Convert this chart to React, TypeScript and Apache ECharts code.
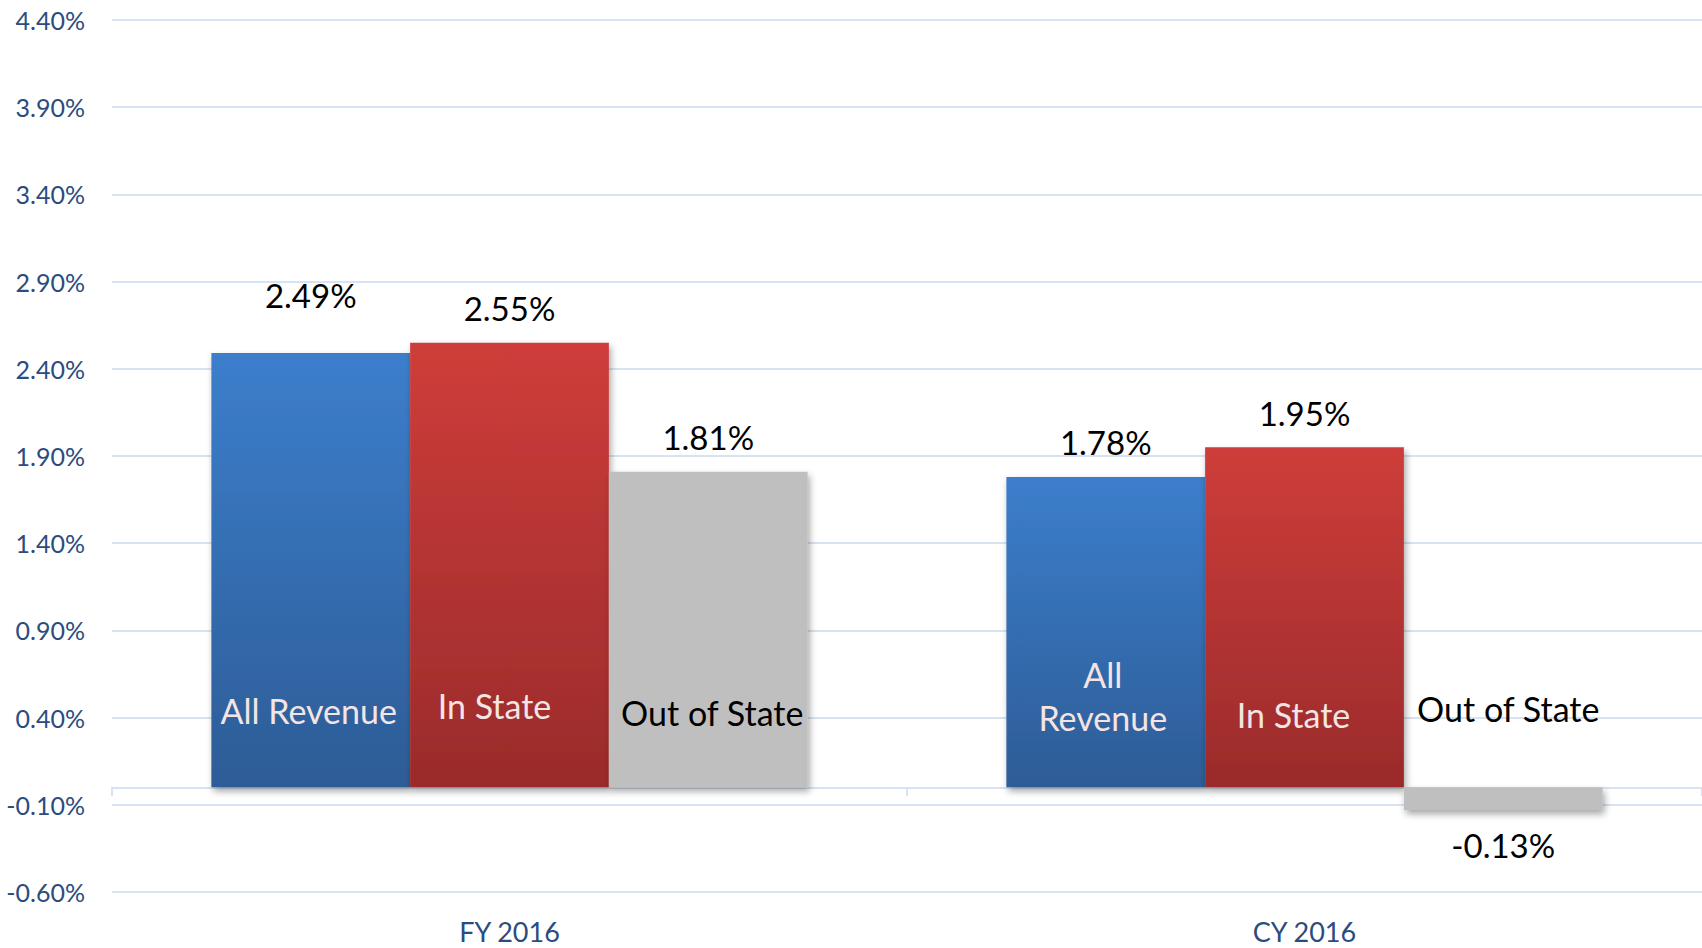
import React, { useEffect, useRef } from 'react';
import * as echarts from 'echarts';

// ---- data ----
const categories = ['FY 2016', 'CY 2016'];
const seriesNames = ['All Revenue', 'In State', 'Out of State'];
const allRevenue = [2.49, 1.78];
const inState = [2.55, 1.95];
const outOfState = [1.81, -0.13];
const axisMin = -0.6;
const axisMax = 4.4;
const axisStep = 0.5;

// ---- style ----
const FONT = 'Lato, "Open Sans", sans-serif';
const AXIS_TEXT = '#2B4C7E';
const GRID_LINE = '#D7E3F2';
const gradients = [
  ['#3C7ECC', '#2D5C96'],
  ['#CE3D3A', '#9A2B2B'],
  ['#BFBFBF', '#BFBFBF'],
];
const nameColors = ['#F4E4E4', '#F4E4E4', '#000000'];
// in-bar name label anchors (value units) and horizontal nudges, per series per category
const nameAnchor = [
  [{ y: 0.44, dx: -2, wrap: false }, { y: 0.523, dx: -3, wrap: true }],
  [{ y: 0.467, dx: -15, wrap: false }, { y: 0.42, dx: -11, wrap: false }],
  [{ y: 0.43, dx: 4, wrap: false }, { y: 0.45, dx: 5, wrap: false }],
];
const valueLabelDistance = [
  [42, 18],
  [18, 18],
  [18, 18],
];

const seriesValues = [allRevenue, inState, outOfState];

export default function App() {
  const ref = useRef<HTMLDivElement>(null);

  useEffect(() => {
    document.body.style.margin = '0';
    document.body.style.overflow = 'hidden';
    if (!ref.current) return;
    const chart = echarts.init(ref.current, null, { renderer: 'svg' });

    const series = seriesNames.map((name, si) => ({
      name,
      type: 'bar',
      xAxisIndex: 0,
      yAxisIndex: 0,
      barGap: '0%',
      barCategoryGap: '25%',
      itemStyle: {
        color: new echarts.graphic.LinearGradient(0, 0, 0, 1, [
          { offset: 0, color: gradients[si][0] },
          { offset: 1, color: gradients[si][1] },
        ]),
        shadowBlur: 7,
        shadowColor: 'rgba(0,0,0,0.35)',
        shadowOffsetX: 2,
        shadowOffsetY: 4,
      },
      data: seriesValues[si].map((v, ci) => ({
        value: v,
        label: {
          show: true,
          position: v < 0 ? 'bottom' : 'top',
          distance: valueLabelDistance[si][ci],
          formatter: (p: any) => Number(p.value).toFixed(2) + '%',
          color: '#000',
          fontSize: 33,
          fontFamily: FONT,
        },
      })),
      markPoint: {
        symbol: 'rect',
        symbolSize: 1,
        itemStyle: { color: 'rgba(0,0,0,0)' },
        silent: true,
        data: categories.map((c, ci) => ({
          coord: [c, nameAnchor[si][ci].y],
          label: {
            show: true,
            position: 'inside',
            offset: [nameAnchor[si][ci].dx, 0],
            formatter: nameAnchor[si][ci].wrap ? name.replace(' ', '\n') : name,
            color: nameColors[si],
            fontSize: 34,
            lineHeight: 43,
            fontFamily: FONT,
          },
        })),
      },
    }));

    chart.setOption({
      animation: false,
      backgroundColor: '#ffffff',
      grid: {
        left: 112,
        right: 0,
        top: 20,
        bottom: 56,
        containLabel: false,
        outerBoundsMode: 'none',
      },
      xAxis: [
        {
          type: 'category',
          data: categories,
          axisLine: {
            show: true,
            onZero: true,
            onZeroAxisIndex: 0,
            lineStyle: { color: GRID_LINE, width: 2 },
          },
          axisTick: {
            show: true,
            length: 9,
            lineStyle: { color: GRID_LINE, width: 2 },
          },
          axisLabel: {
            color: AXIS_TEXT,
            fontSize: 27,
            fontFamily: FONT,
            margin: 26,
          },
          splitLine: { show: false },
        },
      ],
      yAxis: [
        {
          type: 'value',
          position: 'left',
          min: axisMin,
          max: axisMax,
          axisLine: { show: false },
          axisTick: { show: false },
          axisLabel: { show: false },
          splitLine: { show: false },
        },
        {
          type: 'value',
          position: 'left',
          min: 0,
          max: axisMax - axisMin,
          interval: axisStep,
          axisLine: { show: false },
          axisTick: { show: false },
          axisLabel: {
            color: AXIS_TEXT,
            fontSize: 25,
            fontFamily: FONT,
            margin: 27,
            formatter: (v: number) => (v + axisMin).toFixed(2) + '%',
          },
          splitLine: { show: true, lineStyle: { color: GRID_LINE, width: 2 } },
        },
      ],
      series,
    });

    return () => chart.dispose();
  }, []);

  return <div ref={ref} style={{ width: 1702, height: 948 }} />;
}
